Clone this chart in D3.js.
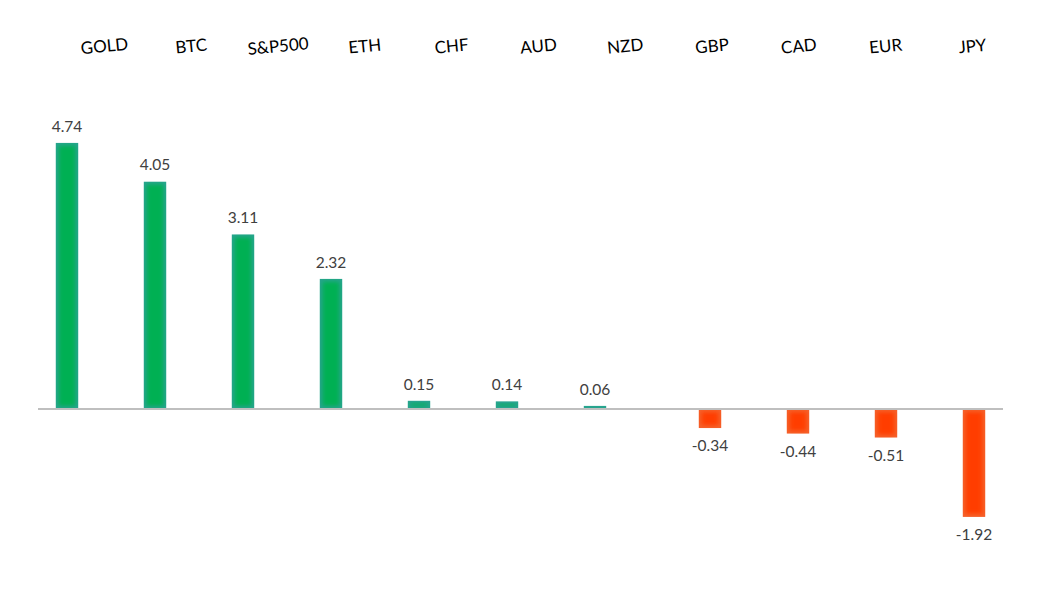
<!DOCTYPE html>
<html>
<head>
<meta charset="utf-8">
<script src="https://cdn.jsdelivr.net/npm/d3@7"></script>
<style>
  html, body { margin: 0; padding: 0; background: #fff; }
  svg { display: block; }
</style>
</head>
<body>
<div id="chart"></div>
<script>
// data
var categories = ["GOLD", "BTC", "S&P500", "ETH", "CHF", "AUD", "NZD", "GBP", "CAD", "EUR", "JPY"];
var values = [4.74, 4.05, 3.11, 2.32, 0.15, 0.14, 0.06, -0.34, -0.44, -0.51, -1.92];

var width = 1058,
    height = 597,
    signGap = 27,      // extra room between gainers and losers
    labelTilt = -5.5;

var svg = d3.select("#chart")
    .append("svg")
    .attr("width", width)
    .attr("height", height);

var x = d3.scaleBand()
    .domain(categories)
    .range([23, 23 + 968])
    .paddingInner(0.74)
    .paddingOuter(0.37);

// top labels are spread evenly on their own
var xLabel = d3.scalePoint()
    .domain(categories)
    .range([105, 973]);

var y = d3.scaleLinear()
    .domain([-2, 5])
    .range([521.4, 128.1]);

function barX(d, i) {
    return x(categories[i]) + (values[i] < 0 ? signGap : 0);
}

// soft edge filter
var defs = svg.append("defs");
defs.append("filter")
    .attr("id", "soft")
    .attr("x", "-50%").attr("y", "-50%")
    .attr("width", "200%").attr("height", "200%")
    .append("feGaussianBlur")
    .attr("stdDeviation", 2.2);

var bars = svg.append("g").attr("class", "bars");

var bar = bars.selectAll("g")
    .data(values)
    .enter()
    .append("g");

bar.append("rect")
    .attr("x", barX)
    .attr("y", function (d) { return Math.min(y(d), y(0)); })
    .attr("width", x.bandwidth())
    .attr("height", function (d) { return Math.abs(y(d) - y(0)); })
    .style("fill", function (d) { return d < 0 ? "#f5622b" : "#27a48e"; });

bar.append("rect")
    .attr("x", function (d, i) { return barX(d, i) + 3; })
    .attr("y", function (d) { return Math.min(y(d), y(0)) + 3; })
    .attr("width", x.bandwidth() - 6)
    .attr("height", function (d) { return Math.max(0, Math.abs(y(d) - y(0)) - 6); })
    .style("fill", function (d) { return d < 0 ? "#ff3c00" : "#00b052"; })
    .attr("filter", "url(#soft)");

// clip the glow to the bar
bar.each(function (d, i) {
    var id = "clip" + i;
    defs.append("clipPath").attr("id", id)
        .append("rect")
        .attr("x", barX(d, i))
        .attr("y", Math.min(y(d), y(0)))
        .attr("width", x.bandwidth())
        .attr("height", Math.abs(y(d) - y(0)));
    d3.select(this).attr("clip-path", "url(#" + id + ")");
});

// zero line
svg.append("line")
    .attr("x1", 38)
    .attr("x2", 1003)
    .attr("y1", y(0))
    .attr("y2", y(0))
    .style("stroke", "#bfbfbf")
    .style("stroke-width", "2px");

// value labels
svg.append("g")
    .selectAll("text")
    .data(values)
    .enter()
    .append("text")
    .attr("x", function (d, i) { return barX(d, i) + x.bandwidth() / 2; })
    .attr("y", function (d) { return d < 0 ? y(d) + 23 : y(d) - 11; })
    .attr("text-anchor", "middle")
    .text(function (d) { return d.toFixed(2); })
    .style("font-family", "Lato, 'Open Sans', sans-serif")
    .style("font-size", "15.5px")
    .style("fill", "#404040");

// category labels on top
svg.append("g")
    .selectAll("text")
    .data(categories)
    .enter()
    .append("text")
    .attr("transform", function (d) {
        return "translate(" + xLabel(d) + ",52) rotate(" + labelTilt + ")";
    })
    .attr("text-anchor", "middle")
    .text(function (d) { return d; })
    .style("font-family", "Lato, 'Open Sans', sans-serif")
    .style("font-size", "17px")
    .style("fill", "#000");
</script>
</body>
</html>
